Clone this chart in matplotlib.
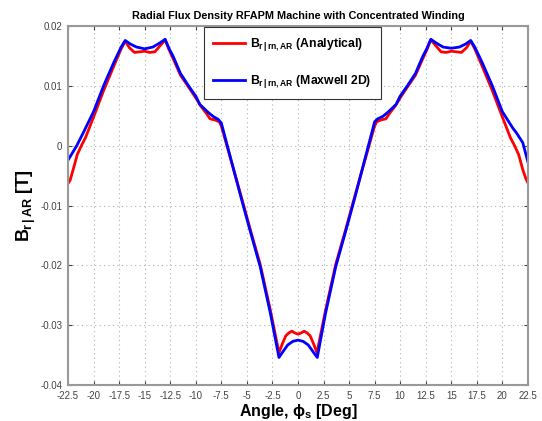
import numpy as np
import matplotlib
matplotlib.use("Agg")
from matplotlib import pyplot as plt

plt.rcParams["font.family"] = ["Liberation Sans", "DejaVu Sans"]
plt.rcParams["mathtext.fontset"] = "custom"
plt.rcParams["mathtext.rm"] = "Liberation Sans:bold"
plt.rcParams["mathtext.it"] = "Liberation Sans:bold"
plt.rcParams["mathtext.bf"] = "Liberation Sans:bold"
plt.rcParams["mathtext.fallback"] = "stixsans"

# angle [deg] and radial flux density [T]
angle_an = [-22.5, -22.3, -22.0, -21.6, -21.2, -20.8, -20.0, -19.0, -18.0, -17.3,
            -16.9, -16.5, -16.0, -15.5, -15.0, -14.5, -14.0, -13.5, -13.0, -12.6,
            -12.2, -11.5, -10.7, -10.0, -9.5, -9.0, -8.6, -8.1, -7.7, -7.5,
            -5.5, -4.7, -3.7, -2.7, -1.86, -1.5, -1.2, -0.9, -0.6, -0.3, 0.0,
            0.3, 0.6, 0.9, 1.2, 1.5, 1.86, 2.7, 3.7, 4.7, 5.5,
            7.5, 7.7, 8.1, 8.6, 9.0, 9.5, 10.0, 10.7, 11.5, 12.2,
            12.6, 13.0, 13.5, 14.0, 14.5, 15.0, 15.5, 16.0, 16.5, 16.9,
            17.3, 18.0, 19.0, 20.0, 20.8, 21.2, 21.6, 22.0, 22.3, 22.5]
flux_an = [-0.0063, -0.0058, -0.0040, -0.0015, 0.0000, 0.0013, 0.0048, 0.0093, 0.0134, 0.0162,
           0.0175, 0.0164, 0.0156, 0.0157, 0.0158, 0.0156, 0.0157, 0.0167, 0.0177, 0.0160,
           0.0145, 0.0118, 0.0098, 0.0080, 0.0066, 0.0055, 0.0045, 0.0043, 0.0040, 0.0033,
           -0.0088, -0.0138, -0.0198, -0.0275, -0.0346, -0.0330, -0.0318, -0.0313, -0.0310, -0.0313, -0.0315,
           -0.0313, -0.0310, -0.0313, -0.0318, -0.0330, -0.0346, -0.0275, -0.0198, -0.0138, -0.0088,
           0.0033, 0.0040, 0.0043, 0.0045, 0.0055, 0.0066, 0.0080, 0.0098, 0.0118, 0.0145,
           0.0160, 0.0177, 0.0167, 0.0157, 0.0156, 0.0158, 0.0157, 0.0156, 0.0164, 0.0175,
           0.0162, 0.0134, 0.0093, 0.0048, 0.0013, 0.0000, -0.0015, -0.0040, -0.0055, -0.0062]

angle_fe = [-22.5, -22.0, -21.65, -21.0, -20.0, -19.0, -18.0, -17.3, -16.9, -16.4,
            -15.8, -15.0, -14.2, -13.5, -13.0, -12.6, -12.2, -11.5, -10.7, -10.0,
            -9.6, -8.8, -8.3, -7.8, -7.5, -5.5, -4.7, -3.7, -2.7, -1.86,
            -1.5, -1.0, -0.5, 0.0, 0.5, 1.0, 1.5, 1.89,
            2.7, 3.7, 4.7, 5.5, 7.5, 7.8, 8.3, 8.8, 9.6, 10.0,
            10.7, 11.5, 12.2, 12.6, 13.0, 13.5, 14.2, 15.0, 15.8, 16.4,
            16.9, 17.3, 18.0, 19.0, 20.0, 21.0, 21.4, 22.0, 22.5]
flux_fe = [-0.0024, -0.0010, 0.0000, 0.0022, 0.0057, 0.0101, 0.0140, 0.0165, 0.0176, 0.0170,
           0.0165, 0.0162, 0.0165, 0.0172, 0.0178, 0.0162, 0.0149, 0.0121, 0.0100, 0.0083,
           0.0069, 0.0056, 0.0049, 0.0044, 0.0038, -0.0091, -0.0141, -0.0202, -0.0280, -0.0354,
           -0.0345, -0.0333, -0.0327, -0.0325, -0.0327, -0.0333, -0.0345, -0.0354,
           -0.0280, -0.0202, -0.0141, -0.0091, 0.0040, 0.0045, 0.0049, 0.0056, 0.0069, 0.0083,
           0.0100, 0.0121, 0.0149, 0.0162, 0.0178, 0.0172, 0.0165, 0.0163, 0.0165, 0.0170,
           0.0176, 0.0165, 0.0140, 0.0101, 0.0057, 0.0030, 0.0021, 0.0005, -0.0027]

xticks = [-22.5, -20, -17.5, -15, -12.5, -10, -7.5, -5, -2.5, 0, 2.5, 5, 7.5, 10, 12.5, 15, 17.5, 20, 22.5]
yticks = [-0.04, -0.03, -0.02, -0.01, 0, 0.01, 0.02]

fig = plt.figure(figsize=(5.42, 4.21), dpi=100)
ax = fig.add_axes([0.1255, 0.0855, 0.8485, 0.8525])

ax.plot(angle_an, flux_an, color="red", lw=2, label=r"$B_{r\,|\,rn,AR}$ (Analytical)")
ax.plot(angle_fe, flux_fe, color="blue", lw=2, label=r"$B_{r\,|\,rn,AR}$ (Maxwell 2D)")

ax.set_xlim(-22.5, 22.5)
ax.set_ylim(-0.04, 0.02)
ax.set_xticks(xticks)
ax.set_xticklabels(["{:g}".format(t) for t in xticks])
ax.set_yticks(yticks)
ax.set_yticklabels(["{:g}".format(t) for t in yticks])
ax.grid(True, linestyle=(0, (1, 3)), color="#b0b0b0", lw=0.8)
ax.tick_params(direction="in", top=True, right=True, labelsize=7, colors="#444444", length=3, pad=4)
for s in ax.spines.values():
    s.set_color("#999999")
    s.set_linewidth(1.5)

ax.set_title("Radial Flux Density RFAPM Machine with Concentrated Winding",
             fontsize=7.8, fontweight="bold", pad=5)
ax.set_xlabel(r"Angle, $\phi_s$ [Deg]", fontsize=11.5, fontweight="bold", labelpad=1)
ax.set_ylabel(r"$B_{r\,|\,AR}$ [T]", fontsize=13, fontweight="bold", labelpad=2)

leg = ax.legend(loc="upper left", bbox_to_anchor=(0.293, 1.0),
                prop={"weight": "bold", "size": 8.8}, fancybox=False, framealpha=1,
                edgecolor="#333333", handlelength=2.6, labelspacing=1.6, borderpad=0.75,
                handletextpad=0.45, borderaxespad=0.1)
leg.get_frame().set_linewidth(0.8)

fig.savefig("out.png", dpi=100)
